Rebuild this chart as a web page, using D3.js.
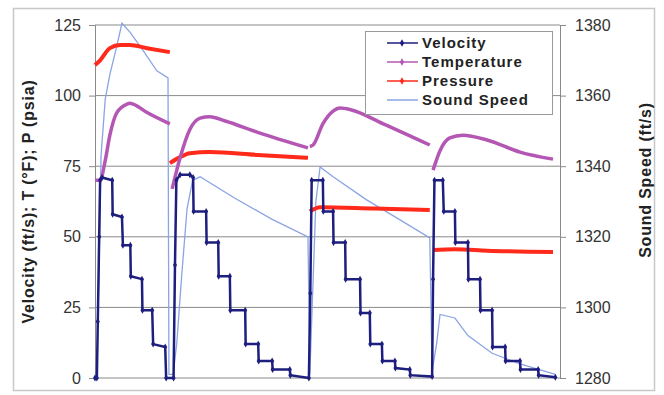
<!DOCTYPE html>
<html>
<head>
<meta charset="utf-8">
<script src="https://cdn.jsdelivr.net/npm/d3@7"></script>
<style>
    body { margin: 0; background: #fff; }
    text { font-family: Arial, "Liberation Sans", sans-serif; }
</style>
</head>
<body>
<div class="canvas"></div>
<script>
// Data (time in % of run; null = break between cycles)
const velocity = [
    [0, 0], [0.4, 0], [0.6, 20], [0.9, 50], [1.1, 70], [1.5, 71], [3.7, 70], [3.8, 58], [5.8, 57],
    [6.0, 47], [7.6, 47], [7.7, 36], [10.1, 35], [10.2, 24], [12.3, 24], [12.5, 12], [15.1, 11],
    [15.3, 0], [16.9, 0], [17.2, 40], [17.5, 70], [18.3, 72], [20.4, 72], [21.1, 71], [21.2, 59],
    [23.9, 59], [24.0, 48], [26.5, 48], [26.6, 36], [29.0, 36], [29.1, 24], [32.3, 24], [32.4, 12],
    [35.1, 12], [35.2, 6], [38.1, 6], [38.2, 3], [41.9, 3], [42.0, 1], [46.0, 0], [46.3, 30],
    [46.6, 70], [49.0, 70], [49.1, 59], [51.2, 59], [51.3, 48], [53.8, 48], [53.9, 35], [57.0, 35],
    [57.1, 23], [59.1, 23], [59.2, 12], [61.7, 12], [61.8, 6], [64.5, 6], [64.6, 3.5], [67.7, 3],
    [67.8, 1], [72.5, 0.5], [72.7, 35], [73.0, 70], [74.8, 70], [75.0, 59], [77.4, 59], [77.5, 48],
    [80.2, 48], [80.3, 35], [82.8, 35], [82.9, 24], [85.4, 24], [85.5, 11], [88.2, 11], [88.3, 6],
    [91.4, 6], [91.5, 3], [95.3, 3], [95.4, 1], [99.0, 0.3]
];

const temperature = [
    [0, 70], [1.1, 70], [2.2, 77], [3.2, 86], [4.7, 94], [6.9, 97], [7.5, 97.3], [8.2, 97],
    [11.2, 94], [16.1, 90], null,
    [16.6, 67], [18.3, 78], [20.4, 88], [22.6, 92], [24.7, 92.5], [28, 91], [35, 87], [45.8, 81.5], null,
    [46.2, 82], [46.9, 82.5], [49.0, 90], [51.2, 94.5], [52.7, 95.6], [55, 95], [62, 90], [72.0, 82.5], null,
    [72.7, 73.6], [74.2, 80.5], [76.3, 85], [79.1, 86], [84.3, 84.3], [91.4, 80], [98.5, 77.5]
];

const pressure = [
    [0, 110.8], [1.1, 112.5], [3.2, 116.8], [5.4, 117.9], [7.5, 117.9], [11.2, 116.8], [16.1, 115.4], null,
    [16.1, 76.1], [18.3, 78.2], [20.4, 79.6], [24.7, 80], [35, 79], [45.8, 78], null,
    [46.2, 59], [48.4, 60.5], [60, 60], [72.0, 59.5], null,
    [72.7, 45.3], [77.4, 45.6], [84.3, 45.1], [98.5, 44.6]
];

const soundSpeed = [
    [0.4, 1280], [0.9, 1314], [1.3, 1343], [2.2, 1359], [3.2, 1366], [4.5, 1373], [5.8, 1380.5],
    [7.5, 1378], [9.7, 1374], [13.3, 1367], [15.7, 1365], [15.9, 1281], [16.8, 1281], [17.6, 1290],
    [18.7, 1310], [19.8, 1328], [21.0, 1336], [22.6, 1337], [30, 1331], [38, 1325], [45.8, 1320],
    [46.2, 1281], [46.7, 1300], [47.5, 1330], [48.4, 1339.8], [51.2, 1337], [58.5, 1330.4],
    [65.6, 1324.8], [72.0, 1319.7], [72.5, 1282], [73.5, 1290], [74.2, 1298], [77.4, 1297],
    [80.2, 1292], [85.4, 1287], [91.4, 1284], [99, 1281]
];

const leftTicks = [0, 25, 50, 75, 100, 125];
const rightTicks = [1280, 1300, 1320, 1340, 1360, 1380];
const legendItems = ['Velocity', 'Temperature', 'Pressure', 'Sound Speed'];
const colors = ['#1e1e7e', '#b457b4', '#ff2a1a', '#8aa4e4'];

// Dimensions
const dims = {
    width: 664,
    height: 395,
    left: 95,
    top: 25,
    plotWidth: 465,
    plotHeight: 353
};

const svg = d3.select('.canvas')
    .append('svg')
    .attr('width', dims.width)
    .attr('height', dims.height);

// Outer frame
svg.append('rect')
    .attr('x', 13.5).attr('y', 8.5)
    .attr('width', 641).attr('height', 382)
    .attr('fill', 'none')
    .attr('stroke', '#c8c8c8')
    .attr('stroke-width', 1.5);

const graph = svg.append('g')
    .attr('transform', `translate(${dims.left}, ${dims.top})`);

// Scales
const x = d3.scaleLinear().domain([0, 100]).range([0, dims.plotWidth]);
const yLeft = d3.scaleLinear().domain([0, 125]).range([dims.plotHeight, 0]);
const yRight = d3.scaleLinear().domain([1280, 1380]).range([dims.plotHeight, 0]);

// Gridlines
graph.selectAll('line.grid')
    .data(leftTicks)
    .enter()
    .append('line')
        .attr('class', 'grid')
        .attr('x1', 0).attr('x2', dims.plotWidth)
        .attr('y1', d => yLeft(d)).attr('y2', d => yLeft(d))
        .attr('stroke', '#8a8a8a')
        .attr('stroke-width', 1);

// Axes
const leftAxis = d3.axisLeft(yLeft).tickValues(leftTicks).tickSize(6).tickPadding(8);
const rightAxis = d3.axisRight(yRight).tickValues(rightTicks).tickFormat(d3.format('d'))
    .tickSize(6).tickPadding(9);

const styleAxis = g => {
    g.select('.domain').attr('stroke', '#8a8a8a');
    g.selectAll('.tick line').attr('stroke', '#8a8a8a');
    g.selectAll('.tick text')
        .attr('font-size', 16)
        .attr('fill', '#333')
        .style('font-family', 'Arial, "Liberation Sans", sans-serif');
};

graph.append('g').call(leftAxis).call(styleAxis);
graph.append('g')
    .attr('transform', `translate(${dims.plotWidth}, 0)`)
    .call(rightAxis).call(styleAxis);

// Axis titles
svg.append('text')
    .attr('transform', `translate(34, ${dims.top + dims.plotHeight / 2}) rotate(-90)`)
    .attr('text-anchor', 'middle')
    .attr('font-size', 16)
    .attr('font-weight', 'bold')
    .attr('letter-spacing', 0.8)
    .attr('fill', '#222')
    .text('Velocity (ft/s); T (°F); P (psia)');

svg.append('text')
    .attr('transform', `translate(651, 180) rotate(-90)`)
    .attr('text-anchor', 'middle')
    .attr('font-size', 16)
    .attr('font-weight', 'bold')
    .attr('letter-spacing', 0.8)
    .attr('fill', '#222')
    .text('Sound Speed (ft/s)');

// Line generators
const lineLeft = d3.line()
    .defined(d => d !== null)
    .x(d => x(d[0]))
    .y(d => yLeft(d[1]));

const smoothLeft = d3.line()
    .defined(d => d !== null)
    .curve(d3.curveMonotoneX)
    .x(d => x(d[0]))
    .y(d => yLeft(d[1]));

const lineRight = d3.line()
    .x(d => x(d[0]))
    .y(d => yRight(d[1]));

graph.append('path')
    .attr('d', lineRight(soundSpeed))
    .attr('fill', 'none')
    .attr('stroke', colors[3])
    .attr('stroke-width', 1.3);

graph.append('path')
    .attr('d', smoothLeft(pressure))
    .attr('fill', 'none')
    .attr('stroke', colors[2])
    .attr('stroke-width', 4)
    .attr('stroke-linejoin', 'round');

graph.append('path')
    .attr('d', smoothLeft(temperature))
    .attr('fill', 'none')
    .attr('stroke', colors[1])
    .attr('stroke-width', 3.5)
    .attr('stroke-linejoin', 'round');

graph.append('path')
    .attr('d', lineLeft(velocity))
    .attr('fill', 'none')
    .attr('stroke', colors[0])
    .attr('stroke-width', 2.5);

// Velocity markers
graph.selectAll('path.marker')
    .data(velocity)
    .enter()
    .append('path')
        .attr('class', 'marker')
        .attr('d', d3.symbol().type(d3.symbolDiamond).size(14))
        .attr('transform', d => `translate(${x(d[0])}, ${yLeft(d[1])})`)
        .attr('fill', colors[0]);

// Legend
const legend = svg.append('g')
    .attr('transform', 'translate(365, 31)');

legend.append('rect')
    .attr('x', 0.5).attr('y', 0.5)
    .attr('width', 187).attr('height', 83)
    .attr('fill', '#fff')
    .attr('stroke', '#9a9a9a');

const rows = legend.selectAll('g.row')
    .data(legendItems)
    .enter()
    .append('g')
        .attr('class', 'row')
        .attr('transform', (d, i) => `translate(0, ${12 + i * 19})`);

rows.append('line')
    .attr('x1', 22).attr('x2', 53)
    .attr('y1', 0).attr('y2', 0)
    .attr('stroke', (d, i) => colors[i])
    .attr('stroke-width', 1.5);

rows.filter((d, i) => i < 3)
    .append('path')
        .attr('d', d3.symbol().type(d3.symbolDiamond).size(16))
        .attr('transform', 'translate(37, 0)')
        .attr('fill', (d, i) => colors[i]);

rows.append('text')
    .attr('x', 57)
    .attr('y', 5)
    .attr('font-size', 15)
    .attr('font-weight', 'bold')
    .attr('letter-spacing', 1)
    .attr('fill', '#222')
    .text(d => d);
</script>
</body>
</html>
